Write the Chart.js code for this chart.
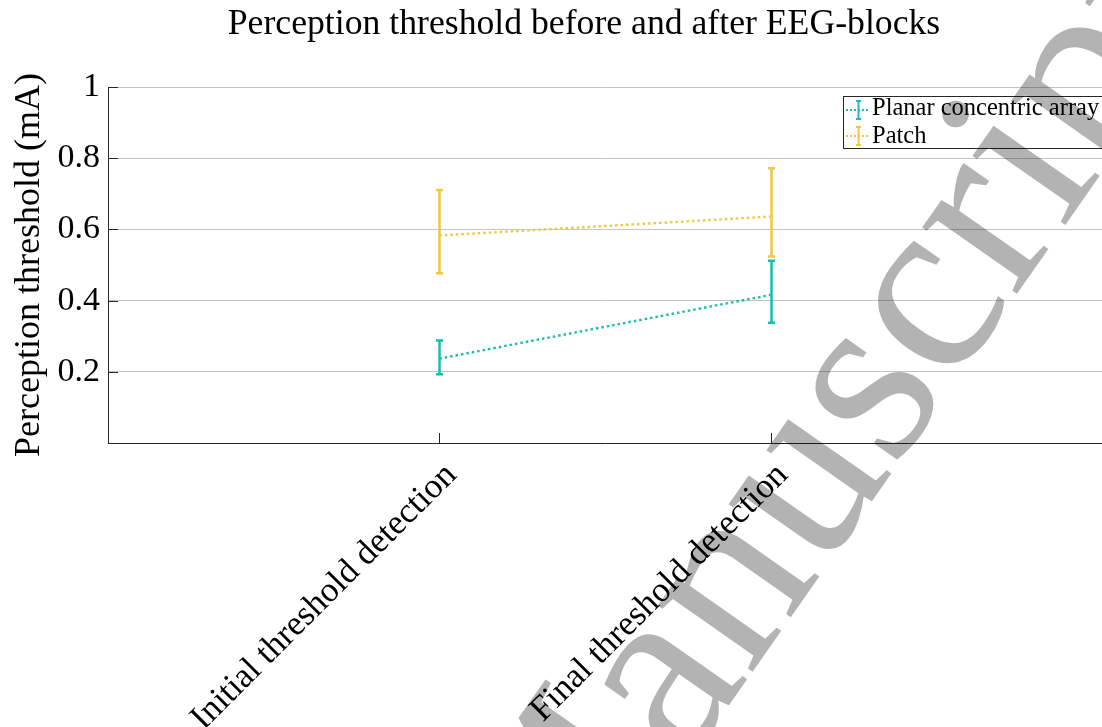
<!DOCTYPE html>
<html>
<head>
<meta charset="utf-8">
<script src="https://cdn.jsdelivr.net/npm/chart.js@4.4.1/dist/chart.umd.min.js"></script>
<style>
  html, body { margin: 0; padding: 0; background: #ffffff; }
  #wrap { width: 1102px; height: 727px; position: relative; }
</style>
</head>
<body>
<div id="wrap"><canvas id="c" width="1102" height="727"></canvas></div>
<script>
// Conditions on the x axis (placed at x = 1 and x = 2)
const categories = ['Initial threshold detection', 'Final threshold detection'];
const seriesNames = ['Planar concentric array', 'Patch'];

// Mean perception threshold (mA) with lower / upper error-bar ends
const planarMean = [0.237, 0.416];
const planarLow  = [0.193, 0.338];
const planarHigh = [0.288, 0.512];
const patchMean  = [0.583, 0.636];
const patchLow   = [0.477, 0.524];
const patchHigh  = [0.711, 0.772];

const yTickValues = [0.2, 0.4, 0.6, 0.8, 1];
const chartTitle = 'Perception threshold before and after EEG-blocks';
const yAxisTitle = 'Perception threshold (mA)';
const watermarkText = 'Accepted Manuscript';

const TEAL = '#17beb1';
const GOLD = '#ecc944';
const AXIS = '#262626';
const SERIF = '"Liberation Serif", "Times New Roman", serif';

const series = [
  { name: seriesNames[0], color: TEAL, mean: planarMean, low: planarLow, high: planarHigh },
  { name: seriesNames[1], color: GOLD, mean: patchMean, low: patchLow, high: patchHigh }
];

const toPoints = arr => arr.map((v, i) => ({ x: i + 1, y: v }));

const decor = {
  id: 'decor',
  beforeDraw(chart) {
    const ctx = chart.ctx;
    ctx.save();
    ctx.fillStyle = '#ffffff';
    ctx.fillRect(0, 0, chart.width, chart.height);
    ctx.restore();
  },
  afterDatasetsDraw(chart) {
    const ctx = chart.ctx;
    const xs = chart.scales.x, ys = chart.scales.y;
    ctx.save();
    ctx.lineWidth = 2.5;
    ctx.lineCap = 'butt';
    series.forEach(s => {
      ctx.strokeStyle = s.color;
      s.mean.forEach((m, i) => {
        const x = Math.round(xs.getPixelForValue(i + 1)) + 0.5;
        const yl = ys.getPixelForValue(s.low[i]);
        const yh = ys.getPixelForValue(s.high[i]);
        ctx.beginPath();
        ctx.moveTo(x, yl); ctx.lineTo(x, yh);
        ctx.moveTo(x - 3.5, yl); ctx.lineTo(x + 3.5, yl);
        ctx.moveTo(x - 3.5, yh); ctx.lineTo(x + 3.5, yh);
        ctx.stroke();
      });
    });
    ctx.restore();
  },
  afterDraw(chart) {
    const ctx = chart.ctx;
    const xs = chart.scales.x, ys = chart.scales.y;
    const area = chart.chartArea;
    ctx.save();

    // inward tick marks
    ctx.strokeStyle = AXIS;
    ctx.lineWidth = 1;
    ctx.beginPath();
    yTickValues.forEach(v => {
      const y = Math.round(ys.getPixelForValue(v)) + 0.5;
      ctx.moveTo(area.left, y); ctx.lineTo(area.left + 10, y);
    });
    categories.forEach((c, i) => {
      const x = Math.round(xs.getPixelForValue(i + 1)) + 0.5;
      ctx.moveTo(x, area.bottom); ctx.lineTo(x, area.bottom - 10);
    });
    ctx.stroke();

    // legend box
    const lx = 843.5, ly = 96.5;
    ctx.fillStyle = '#ffffff';
    ctx.fillRect(lx, ly, 300, 52);
    ctx.strokeStyle = AXIS;
    ctx.strokeRect(lx, ly, 300, 52);
    ctx.font = '24.5px ' + SERIF;
    ctx.textBaseline = 'alphabetic';
    ctx.textAlign = 'left';
    series.forEach((s, i) => {
      const cy = 110 + i * 26;
      ctx.strokeStyle = s.color;
      ctx.lineWidth = 2;
      ctx.setLineDash([2, 2]);
      ctx.beginPath();
      ctx.moveTo(846, cy); ctx.lineTo(870, cy);
      ctx.stroke();
      ctx.setLineDash([]);
      ctx.beginPath();
      ctx.moveTo(858.5, cy - 9); ctx.lineTo(858.5, cy + 9);
      ctx.moveTo(856, cy - 9); ctx.lineTo(861, cy - 9);
      ctx.moveTo(856, cy + 9); ctx.lineTo(861, cy + 9);
      ctx.stroke();
      ctx.fillStyle = '#000000';
      ctx.fillText(s.name, 872, 115 + i * 28);
    });

    // title
    ctx.font = '35.7px ' + SERIF;
    ctx.textAlign = 'center';
    ctx.fillStyle = '#000000';
    ctx.fillText(chartTitle, 584, 34);

    // grey watermark laid over the figure
    ctx.globalCompositeOperation = 'multiply';
    ctx.fillStyle = '#b3b3b3';
    ctx.font = '252px ' + SERIF;
    ctx.textAlign = 'left';
    ctx.translate(685, 768);
    ctx.rotate(-55 * Math.PI / 180);
    const pre = ctx.measureText('Accepted M').width;
    ctx.fillText(watermarkText, -pre, 0);
    ctx.restore();
  }
};

new Chart(document.getElementById('c'), {
  type: 'line',
  data: {
    datasets: series.map(s => ({
      label: s.name,
      data: toPoints(s.mean),
      borderColor: s.color,
      backgroundColor: s.color,
      borderWidth: 2.4,
      borderDash: [2.5, 3],
      pointRadius: 0,
      fill: false,
      tension: 0
    }))
  },
  options: {
    responsive: false,
    devicePixelRatio: 1,
    animation: false,
    layout: { padding: { top: 87, left: 0, right: 0, bottom: 0 } },
    plugins: {
      legend: { display: false },
      title: { display: false },
      tooltip: { enabled: false }
    },
    scales: {
      x: {
        type: 'linear',
        min: 0,
        max: 3,
        afterBuildTicks: s => { s.ticks = [0, 1, 2, 3].map(v => ({ value: v })); },
        afterFit: s => { s.height = 284; s.paddingLeft = 0; s.paddingRight = 0; },
        grid: { display: false },
        border: { display: true, color: AXIS, width: 1 },
        ticks: {
          autoSkip: false,
          minRotation: 45,
          maxRotation: 45,
          padding: 4,
          labelOffset: 12,
          color: '#000000',
          font: { family: SERIF, size: 35 },
          callback: v => categories[v - 1] || ''
        }
      },
      y: {
        min: 0,
        max: 1,
        afterBuildTicks: s => { s.ticks = [0].concat(yTickValues).map(v => ({ value: v })); },
        afterFit: s => { s.width = 108; s.paddingTop = 0; s.paddingBottom = 0; },
        grid: {
          drawTicks: false,
          lineWidth: 1,
          color: c => (c.tick && c.tick.value === 0) ? 'rgba(0,0,0,0)' : '#c4c4c4'
        },
        border: { display: true, color: AXIS, width: 1 },
        ticks: {
          padding: 8,
          color: '#000000',
          font: { family: SERIF, size: 34 },
          callback: v => v < 0.01 ? '' : String(Math.round(v * 10) / 10)
        },
        title: {
          display: true,
          text: yAxisTitle,
          color: '#000000',
          font: { family: SERIF, size: 36 },
          padding: { top: 8, bottom: 0 }
        }
      }
    }
  },
  plugins: [decor]
});
</script>
</body>
</html>
